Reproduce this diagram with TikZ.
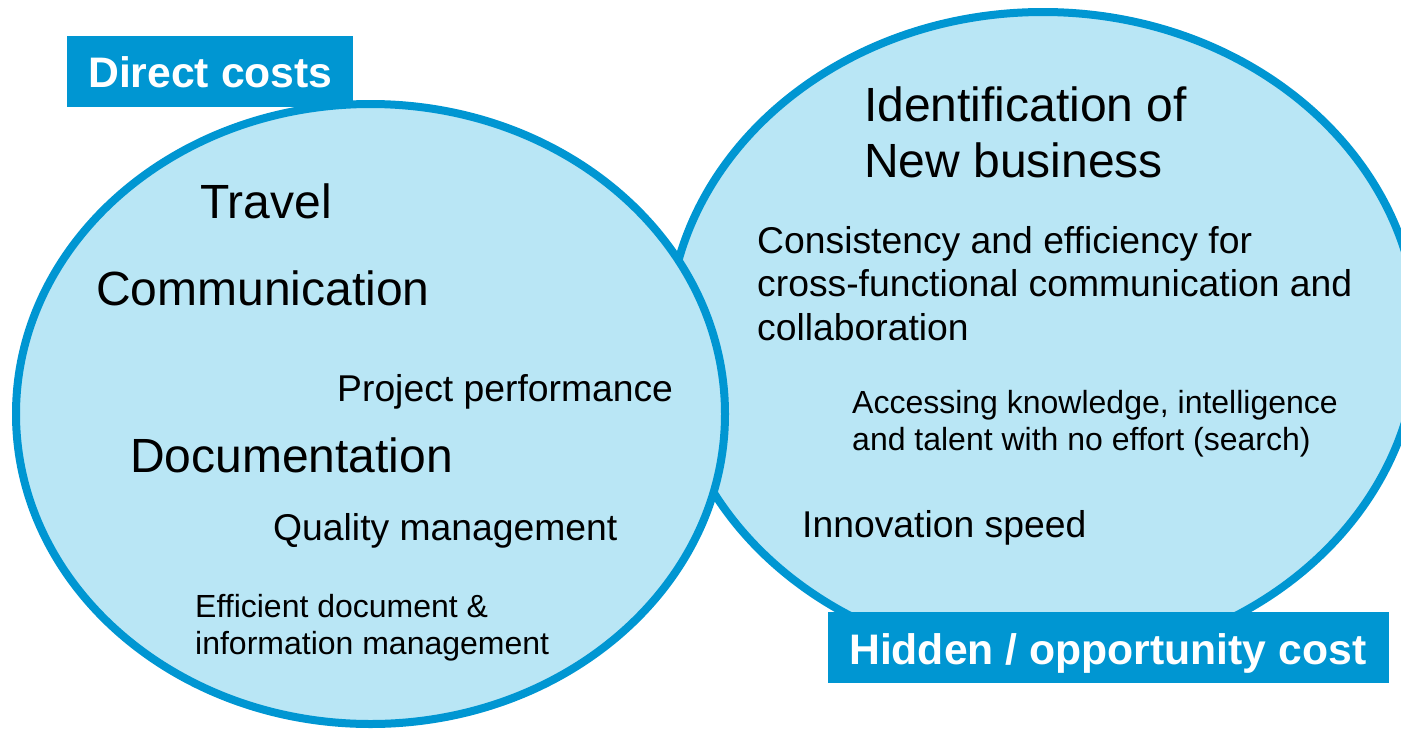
\documentclass[tikz,border=0pt]{standalone}
\usepackage{fontspec}
\setmainfont{Liberation Sans}
\definecolor{cblue}{RGB}{0,150,210}
\definecolor{cfill}{RGB}{185,230,245}
\tikzset{
  bubble/.style={draw=cblue, fill=cfill, line width=8pt},
  tagbox/.style={fill=cblue, draw=none},
  tagtext/.style={anchor=base west, inner sep=0pt, text=white, font=\fontsize{42.7}{48}\selectfont\bfseries},
  bigtxt/.style={anchor=base west, inner sep=0pt, font=\fontsize{48}{56}\selectfont},
  midtxt/.style={anchor=base west, inner sep=0pt, font=\fontsize{37.3}{44}\selectfont},
  smalltxt/.style={anchor=base west, inner sep=0pt, font=\fontsize{32}{37}\selectfont}
}
\begin{document}
\begin{tikzpicture}[x=1pt,y=-1pt]
\useasboundingbox (0,0) rectangle (1401,729);
\clip (0,0) rectangle (1401,729);
% ellipses
\draw[bubble] (1043,337) ellipse [x radius=375, y radius=325];
\draw[bubble] (370.5,414) ellipse [x radius=354.5, y radius=310];
% tags
\fill[tagbox] (67,36) rectangle (353,107);
\node[tagtext] (direct) at (88,87) {Direct costs};
\fill[tagbox] (828,612) rectangle (1389,683);
\node[tagtext] (hidden) at (849,664) {Hidden / opportunity cost};
% left texts
\node[bigtxt] (travel) at (200,218) {Travel};
\node[bigtxt] (comm) at (96,305) {Communication};
\node[midtxt] (proj) at (337,401) {Project performance};
\node[bigtxt] (doc) at (130,472) {Documentation};
\node[midtxt] (qual) at (273,540) {Quality management};
\node[smalltxt] (eff1) at (195,617) {Efficient document \&};
\node[smalltxt] (eff2) at (195,654) {information management};
% right texts
\node[bigtxt] (ident1) at (864,121) {Identification of};
\node[bigtxt] (ident2) at (864,177) {New business};
\node[midtxt] (cons1) at (757,253) {Consistency and efficiency for};
\node[midtxt] (cons2) at (757,296) {cross-functional communication and};
\node[midtxt] (cons3) at (757,340) {collaboration};
\node[smalltxt] (acc1) at (852,413) {Accessing knowledge, intelligence};
\node[smalltxt] (acc2) at (852,450) {and talent with no effort (search)};
\node[midtxt] (innov) at (802,537) {Innovation speed};
\end{tikzpicture}
\end{document}
